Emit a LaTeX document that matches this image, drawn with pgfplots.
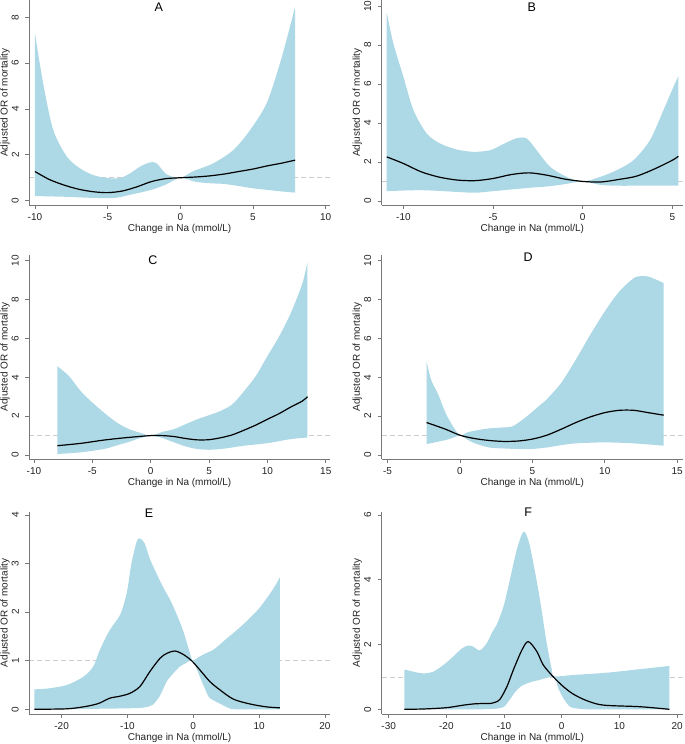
\documentclass[border=0pt]{standalone}
\usepackage{fontspec}
\setmainfont{Liberation Sans}
\usepackage{pgfplots}
\pgfplotsset{compat=1.18}
\usepgfplotslibrary{fillbetween}
\definecolor{bandblue}{RGB}{173,216,230}
\definecolor{axgray}{RGB}{120,120,120}
\definecolor{txtgray}{RGB}{35,35,35}
\pgfplotsset{
  panel/.style={
    scale only axis,
    axis x line*=bottom, axis y line*=left,
    axis line style={draw=axgray, line width=0.7pt},
    tick align=outside, major tick length=4pt,
    tick style={draw=axgray, line width=0.7pt},
    tick label style={font=\fontsize{10}{11}\selectfont, text=txtgray},
    yticklabel style={rotate=90, anchor=south, yshift=3pt},
    xticklabel style={yshift=-1pt},
    xlabel={Change in Na (mmol/L)},
    ylabel={Adjusted OR of mortality},
    xlabel style={font=\fontsize{10}{11}\selectfont, text=txtgray, at={(axis description cs:0.5,0)}, anchor=center, yshift=-23.5pt},
    ylabel style={font=\fontsize{10}{11}\selectfont, text=txtgray, at={(axis description cs:0,0.5)}, anchor=center, inner sep=0pt, yshift=24.3pt},
    extra y ticks={1}, extra y tick labels={},
    extra y tick style={grid=major, major tick length=0pt, major grid style={draw=black!20, line width=0.8pt, dash pattern=on 5pt off 3pt}},
    clip mode=individual,
    anchor=south west,
  },
  band/.style={draw=none, smooth, tension=0.5},
  est/.style={black, line width=1.2pt, smooth, tension=0.5},
}
\begin{document}
\begin{tikzpicture}

% ---------------- A ----------------
\begin{axis}[panel, at={(29.3pt,-205pt)}, width=300.7pt, height=205pt,
  xmin=-10.39, xmax=10.30, ymin=-0.19, ymax=8.76,
  xtick={-10,-5,0,5,10}, xticklabels={-10,-5,0,5,10},
  ytick={0,2,4,6,8}, yticklabels={0,2,4,6,8}]
\addplot[band, name path=u] coordinates {(-10,7.3) (-9.43,5.1) (-8.74,3.08) (-7.8,1.92) (-6.9,1.41) (-6,1.12) (-5.07,0.99) (-4.15,0.99) (-3.46,1.19) (-2.78,1.48) (-2.09,1.67) (-1.63,1.63) (-0.94,1.15) (0,1.0) (0.9,1.29) (2.27,1.63) (3.65,2.21) (4.8,3.08) (5.94,4.25) (6.86,6.0) (7.55,7.6) (7.9,8.47)};
\addplot[band, name path=l] coordinates {(-10,0.2) (-8,0.17) (-6,0.12) (-4.5,0.12) (-3.5,0.25) (-2,0.47) (-1,0.7) (0,1.0) (1,0.83) (2,0.76) (3,0.73) (4,0.64) (5,0.54) (6,0.47) (7,0.4) (7.9,0.35)};
\addplot[fill=bandblue, draw=none] fill between[of=u and l];
\addplot[est] coordinates {(-10,1.27) (-9,0.92) (-8,0.68) (-7,0.5) (-6,0.39) (-5,0.35) (-4,0.42) (-3,0.6) (-2,0.83) (-1,0.96) (0,1.0) (1,1.03) (2,1.08) (3,1.16) (4,1.27) (5,1.38) (6,1.52) (7,1.64) (7.9,1.77)};
\node[font=\fontsize{12.5}{14}\selectfont, text=black] at (rel axis cs:0.431,0.966) {A};
\end{axis}

% ---------------- B ----------------
\begin{axis}[panel, at={(381.7pt,-205pt)}, width=301.3pt, height=205pt,
  xmin=-11.21, xmax=5.59, ymin=-0.21, ymax=10.31,
  xtick={-10,-5,0,5}, xticklabels={-10,-5,0,5},
  ytick={0,2,4,6,8,10}, yticklabels={0,2,4,6,8,10}]
\addplot[band, name path=u] coordinates {(-10.93,9.66) (-10.56,8.08) (-10,6.37) (-9.44,4.66) (-8.7,3.46) (-7.96,2.95) (-7.03,2.64) (-6.1,2.52) (-5.17,2.6) (-4.42,2.92) (-3.68,3.22) (-3.12,3.2) (-2.57,2.6) (-1.82,1.75) (-0.89,1.23) (0,1.0) (0.97,1.23) (1.9,1.58) (2.83,2.09) (3.75,3.12) (4.5,4.66) (5.06,5.86) (5.33,6.4)};
\addplot[band, name path=l] coordinates {(-10.93,0.5) (-9,0.55) (-7,0.46) (-6,0.42) (-5,0.5) (-3,0.67) (-2,0.74) (-1,0.86) (0,1.0) (1,0.82) (2,0.78) (3,0.78) (5.33,0.78)};
\addplot[fill=bandblue, draw=none] fill between[of=u and l];
\addplot[est] coordinates {(-10.93,2.26) (-10,1.92) (-9,1.49) (-8,1.22) (-7,1.07) (-6,1.04) (-5,1.15) (-4,1.35) (-3,1.44) (-2,1.32) (-1,1.12) (0,1.0) (1,0.97) (2,1.1) (3,1.27) (4,1.64) (5,2.09) (5.33,2.29)};
\node[font=\fontsize{12.5}{14}\selectfont, text=black] at (rel axis cs:0.498,0.966) {B};
\end{axis}

% ---------------- C ----------------
\begin{axis}[panel, at={(29.3pt,-459.3pt)}, width=300.7pt, height=204.3pt,
  xmin=-10.40, xmax=15.36, ymin=-0.22, ymax=10.29,
  xtick={-10,-5,0,5,10,15}, xticklabels={-10,-5,0,5,10,15},
  ytick={0,2,4,6,8,10}, yticklabels={0,2,4,6,8,10}]
\addplot[band, name path=u] coordinates {(-8,4.57) (-7,4.06) (-6,3.29) (-5,2.7) (-4,2.18) (-3,1.71) (-2,1.37) (-1,1.16) (0,1.0) (1,1.19) (2,1.33) (3,1.59) (4,1.84) (5,2.05) (6,2.27) (7,2.61) (8,3.29) (9,4.06) (10,5.09) (11,6.1) (12,7.3) (13,8.84) (13.43,9.95)};
\addplot[band, name path=l] coordinates {(-8,0.05) (-6,0.14) (-4,0.31) (-3,0.48) (-2,0.65) (-1,0.85) (0,1.0) (1,0.87) (2,0.65) (3,0.44) (4,0.31) (5,0.27) (6,0.31) (7,0.39) (8,0.48) (10,0.61) (12,0.82) (13.43,0.9)};
\addplot[fill=bandblue, draw=none] fill between[of=u and l];
\addplot[est] coordinates {(-8,0.48) (-6,0.6) (-4,0.77) (-2,0.9) (0,1.0) (1,1.0) (2,0.95) (3,0.85) (4,0.78) (5,0.79) (6,0.89) (7,1.04) (8,1.28) (9,1.54) (10,1.84) (11,2.13) (12,2.47) (13,2.78) (13.43,3.0)};
\node[font=\fontsize{12.5}{14}\selectfont, text=black] at (rel axis cs:0.411,0.976) {C};
\end{axis}

% ---------------- D ----------------
\begin{axis}[panel, at={(381.7pt,-459.3pt)}, width=301.3pt, height=204.3pt,
  xmin=-5.40, xmax=15.40, ymin=-0.22, ymax=10.29,
  xtick={-5,0,5,10,15}, xticklabels={-5,0,5,10,15},
  ytick={0,2,4,6,8,10}, yticklabels={0,2,4,6,8,10}]
\addplot[band, name path=u] coordinates {(-2.3,4.83) (-2,3.89) (-1.5,3.12) (-1,2.18) (-0.5,1.5) (0,1.02) (0.5,1.16) (1,1.25) (2,1.37) (3,1.42) (3.6,1.47) (4.2,1.75) (4.8,2.1) (5.5,2.55) (6,2.87) (7,3.72) (8,4.91) (9,6.19) (10,7.39) (11,8.41) (12,9.1) (12.5,9.2) (13,9.18) (13.5,9.04) (14.07,8.84)};
\addplot[band, name path=l] coordinates {(-2.3,0.56) (-1,0.77) (-0.5,0.88) (0,1.0) (0.5,0.8) (1,0.61) (2,0.39) (3,0.34) (4,0.31) (5,0.31) (6,0.39) (7,0.51) (8,0.6) (10,0.65) (12,0.6) (14.07,0.48)};
\addplot[fill=bandblue, draw=none] fill between[of=u and l];
\addplot[est] coordinates {(-2.3,1.67) (-1,1.33) (0,1.02) (1,0.85) (2,0.75) (3,0.7) (4,0.72) (5,0.82) (6,1.02) (7,1.33) (8,1.67) (9,1.96) (10,2.18) (11,2.3) (12,2.3) (13,2.18) (14.07,2.05)};
\node[font=\fontsize{12.5}{14}\selectfont, text=black] at (rel axis cs:0.486,0.99) {D};
\end{axis}

% ---------------- E ----------------
\begin{axis}[panel, at={(29.3pt,-714pt)}, width=300.7pt, height=202.3pt,
  xmin=-24.91, xmax=20.77, ymin=-0.097, ymax=4.07,
  xtick={-20,-10,0,10,20}, xticklabels={-20,-10,0,10,20},
  ytick={0,1,2,3,4}, yticklabels={0,1,2,3,4}]
\addplot[band, name path=u] coordinates {(-24.15,0.41) (-22,0.43) (-19.2,0.5) (-16.7,0.67) (-15.2,0.88) (-14.2,1.22) (-12.7,1.63) (-11.1,1.95) (-10.1,2.4) (-9.4,3.0) (-8.6,3.45) (-8.1,3.52) (-7.4,3.42) (-6.6,3.1) (-5.6,2.8) (-4.6,2.52) (-3.5,2.25) (-2.5,1.95) (-1.5,1.6) (-0.6,1.2) (-0.1,1.01) (1,1.09) (2,1.16) (3,1.22) (4,1.33) (5,1.45) (6,1.56) (8,1.8) (10,2.08) (12,2.45) (13.16,2.72)};
\addplot[band, name path=l] coordinates {(-24.15,0) (-20,0) (-15,0.01) (-10,0.02) (-8,0.03) (-7,0.05) (-6.1,0.1) (-5.06,0.28) (-4.05,0.57) (-3.04,0.74) (-2.03,0.88) (-1,0.96) (-0.1,1.0) (1,0.67) (2,0.35) (2.53,0.23) (4,0.12) (5.5,0.02) (6.5,0) (13.16,0)};
\addplot[fill=bandblue, draw=none] fill between[of=u and l];
\addplot[est] coordinates {(-24.15,0) (-19.2,0.01) (-16.7,0.05) (-15.2,0.09) (-14.2,0.13) (-12.66,0.23) (-11.14,0.27) (-9.62,0.33) (-8.1,0.47) (-6.58,0.78) (-5.06,1.05) (-4.05,1.15) (-2.78,1.2) (-1.52,1.13) (-0.25,1.0) (1.01,0.81) (2.53,0.57) (4.05,0.4) (6.08,0.21) (8.6,0.11) (11.14,0.05) (13.16,0.03)};
\node[font=\fontsize{12.5}{14}\selectfont, text=black] at (rel axis cs:0.398,0.992) {E};
\end{axis}

% ---------------- F ----------------
\begin{axis}[panel, at={(381.7pt,-714pt)}, width=301.3pt, height=202.3pt,
  xmin=-31.21, xmax=21.03, ymin=-0.145, ymax=6.10,
  xtick={-30,-20,-10,0,10,20}, xticklabels={-30,-20,-10,0,10,20},
  ytick={0,2,4,6}, yticklabels={0,2,4,6}]
\addplot[band, name path=u] coordinates {(-27.3,1.23) (-25.7,1.16) (-24,1.11) (-22.3,1.16) (-20.5,1.37) (-18.8,1.63) (-17.3,1.88) (-16.2,1.97) (-15.3,1.93) (-14.2,1.82) (-13,2.04) (-12,2.4) (-11.3,2.6) (-10.1,3.17) (-9,3.99) (-7.8,4.92) (-6.65,5.48) (-5.8,5.23) (-4.9,4.5) (-3.76,3.37) (-2.6,2.04) (-1.7,1.21) (-1.3,1.02) (2,1.06) (7.8,1.13) (13.6,1.24) (18.67,1.34)};
\addplot[band, name path=l] coordinates {(-27.3,0) (-15,0) (-12,0.01) (-11,0.03) (-10,0.08) (-9,0.3) (-8,0.55) (-7,0.72) (-6,0.8) (-5,0.86) (-4,0.9) (-3,0.95) (-1.3,1.0) (-0.6,0.65) (0.3,0.34) (1.45,0.08) (3,0.02) (5,0) (18.67,0)};
\addplot[fill=bandblue, draw=none] fill between[of=u and l];
\addplot[est] coordinates {(-27.3,0) (-24,0.01) (-20,0.05) (-17,0.13) (-15,0.17) (-13,0.18) (-12.4,0.18) (-11.5,0.22) (-10.7,0.31) (-9.5,0.7) (-8.4,1.21) (-6.9,1.83) (-5.8,2.09) (-4.3,1.78) (-3.2,1.37) (-1.45,1.0) (0.29,0.7) (2,0.47) (4.3,0.27) (7.2,0.13) (13.6,0.08) (18.67,0)};
\node[font=\fontsize{12.5}{14}\selectfont, text=black] at (rel axis cs:0.486,1.0) {F};
\end{axis}

\pgfresetboundingbox
\path[use as bounding box] (0,0) rectangle (685pt,-744pt);
\end{tikzpicture}
\end{document}
